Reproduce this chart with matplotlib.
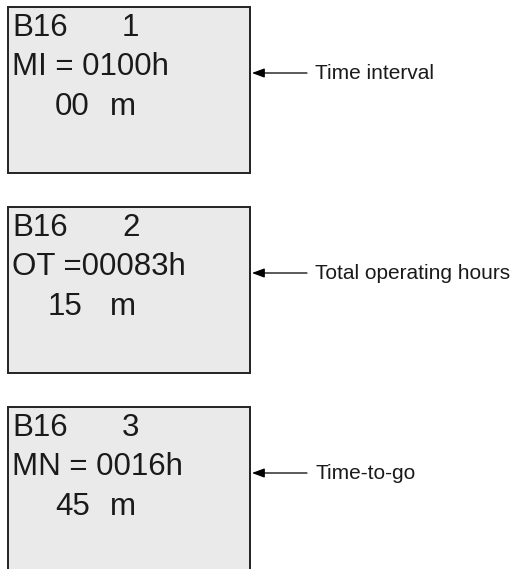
import matplotlib
matplotlib.use("Agg")
import matplotlib.pyplot as plt
from matplotlib.patches import Rectangle

# ---- content ----
block_names = ["B16", "B16", "B16"]
screen_numbers = ["1", "2", "3"]
param_lines = ["MI = 0100h", "OT =00083h", "MN = 0016h"]
minute_values = ["00", "15", "45"]
minute_unit = "m"
labels = ["Time interval", "Total operating hours", "Time-to-go"]

# ---- layout ----
W, H = 515, 569
box_tops = [7, 207, 407]
box_left, box_right, box_h = 8, 250, 166
minute_x = [55, 48, 55]

fig = plt.figure(figsize=(W / 100, H / 100), dpi=100)
ax = fig.add_axes([0, 0, 1, 1])
ax.set_xlim(0, W)
ax.set_ylim(H, 0)
ax.axis("off")

font = "Liberation Sans"
big = 22.5
small = 15
txtc = "#1a1a1a"

for i, top in enumerate(box_tops):
    ax.add_patch(Rectangle((box_left, top), box_right - box_left, box_h,
                           facecolor="#e9eae9", edgecolor="#222222", lw=1.4))
    ax.text(12, top + 21, block_names[i], family=font, fontsize=big,
            color=txtc, va="center", ha="left")
    ax.text(122, top + 21, screen_numbers[i], family=font, fontsize=big,
            color=txtc, va="center", ha="left")
    ax.text(12, top + 60, param_lines[i], family=font, fontsize=big,
            color=txtc, va="center", ha="left")
    ax.text(minute_x[i], top + 100, minute_values[i], family=font,
            fontsize=big, color=txtc, va="center", ha="left")
    ax.text(110, top + 100, minute_unit, family=font, fontsize=big,
            color=txtc, va="center", ha="left")

    ay = top + 66
    ax.annotate("", xy=(252, ay), xytext=(307, ay),
                arrowprops=dict(arrowstyle="-|>,head_length=0.75,head_width=0.28",
                                color="black", lw=0.9, shrinkA=0, shrinkB=0))
    ax.text(315, ay, labels[i], family=font, fontsize=small, color=txtc,
            va="center", ha="left")

fig.savefig("out.png", dpi=100, facecolor="white")
